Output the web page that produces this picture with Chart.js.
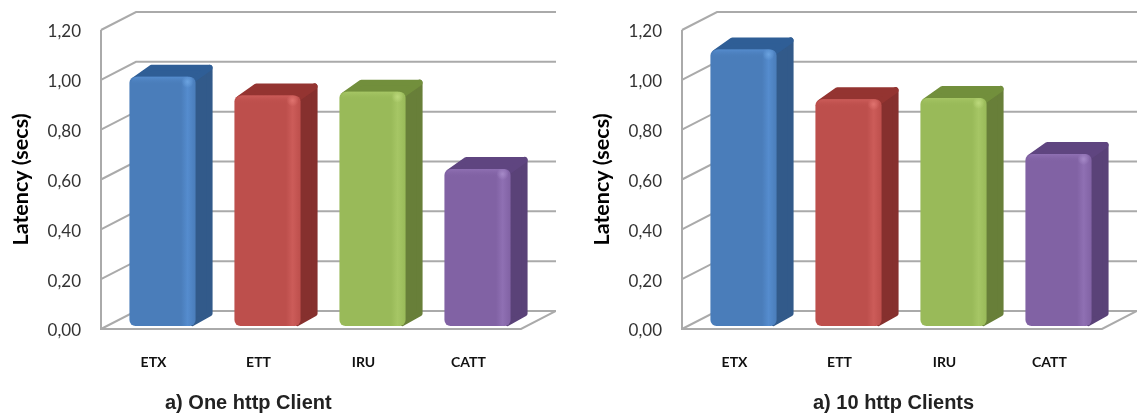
<!DOCTYPE html>
<html>
<head>
<meta charset="utf-8">
<title>Latency</title>
<script src="https://cdn.jsdelivr.net/npm/chart.js@4/dist/chart.umd.min.js"></script>
<style>
html, body { margin: 0; padding: 0; background: #fff; }
body { position: relative; width: 1137px; height: 414px; overflow: hidden; }
canvas { position: absolute; top: 0; }
#chartOne { left: 0; }
#chartTen { left: 581px; }
.caption { position: absolute; top: 390px; font: bold 20px/24px "Liberation Sans", Arial, sans-serif; color: #222; white-space: nowrap; }
#captionOne { left: 165px; }
#captionTen { left: 813px; }
</style>
</head>
<body>
<canvas id="chartOne" width="556" height="414"></canvas>
<canvas id="chartTen" width="556" height="414"></canvas>
<div class="caption" id="captionOne">a) One http Client</div>
<div class="caption" id="captionTen">a) 10 http Clients</div>

<script>
var metrics = ["ETX", "ETT", "IRU", "CATT"];
var oneClient = [1.00, 0.925, 0.94, 0.63];
var tenClients = [1.11, 0.91, 0.915, 0.69];
var yTickLabels = ["0,00", "0,20", "0,40", "0,60", "0,80", "1,00", "1,20"];

// front, light edge, top face, side face for each bar
var barFront = ["#4a7dba", "#bd4f4c", "#99ba59", "#8162a4"];
var barLight = ["#558cce", "#cc5c59", "#a6c665", "#8f70b3"];
var barTop = ["#2f5e96", "#943431", "#728f3c", "#5f4580"];
var barSide = ["#325a8a", "#86302e", "#687f39", "#5a4278"];
var barSpot = ["#6ba3e0", "#e0736f", "#bcd97c", "#a68ac8"];

var wallColor = "#aaaaaa";
var wallDepthX = 35, wallDepthY = 18;
var barDepthX = 17, barDepthY = 9.5, barTopRise = 12;
var barShiftX = 9, barShiftY = 3;

function polygon(ctx, pts, color) {
    ctx.fillStyle = color;
    ctx.strokeStyle = color;
    ctx.lineWidth = 6;
    ctx.lineJoin = "round";
    ctx.beginPath();
    ctx.moveTo(pts[0][0], pts[0][1]);
    for (var i = 1; i < pts.length; i++) {
        ctx.lineTo(pts[i][0], pts[i][1]);
    }
    ctx.closePath();
    ctx.fill();
    ctx.stroke();
}

// the box behind the bars: left wall, back wall and floor
var wallsPlugin = {
    id: "walls",
    beforeDatasetsDraw: function(chart) {
        var ctx = chart.ctx;
        var area = chart.chartArea;
        var y = chart.scales.y;
        ctx.save();
        ctx.strokeStyle = wallColor;
        ctx.lineWidth = 2;
        y.ticks.forEach(function(tick) {
            var py = y.getPixelForValue(tick.value);
            ctx.beginPath();
            ctx.moveTo(area.left, py);
            ctx.lineTo(area.left + wallDepthX, py - wallDepthY);
            ctx.lineTo(area.right + wallDepthX, py - wallDepthY);
            ctx.stroke();
        });
        ctx.beginPath();
        ctx.moveTo(area.left, area.top);
        ctx.lineTo(area.left, area.bottom);
        ctx.lineTo(area.right, area.bottom);
        ctx.lineTo(area.right + wallDepthX, area.bottom - wallDepthY);
        ctx.stroke();
        ctx.restore();
    }
};

// top and side faces, then shift everything so the bars stand mid-floor
var depthPlugin = {
    id: "depth",
    beforeDatasetDraw: function(chart) {
        var ctx = chart.ctx;
        ctx.save();
        ctx.translate(barShiftX, -barShiftY);
        chart.getDatasetMeta(0).data.forEach(function(bar, i) {
            var l = bar.x - bar.width / 2;
            var r = bar.x + bar.width / 2;
            var t = bar.y;
            var b = bar.base;
            polygon(ctx, [[r - 3, t + 3], [r + barDepthX - 3, t - barTopRise + 3],
                [r + barDepthX - 3, b - barDepthY - 3], [r - 3, b - 3]], barSide[i]);
            polygon(ctx, [[l + 5, t + 3], [l + barDepthX + 5, t - barTopRise + 3],
                [r + barDepthX - 3, t - barTopRise + 3], [r - 3, t + 3]], barTop[i]);
        });
    },
    afterDatasetDraw: function(chart) {
        var ctx = chart.ctx;
        chart.getDatasetMeta(0).data.forEach(function(bar, i) {
            var r = bar.x + bar.width / 2;
            var l = bar.x - bar.width / 2;
            // soft bevel along the top of the front face
            var bevel = ctx.createLinearGradient(0, bar.y, 0, bar.y + 8);
            bevel.addColorStop(0, barLight[i]);
            bevel.addColorStop(1, barFront[i] + "00");
            ctx.fillStyle = bevel;
            ctx.beginPath();
            ctx.roundRect(l + 2, bar.y, bar.width - 4, 8, [6, 6, 0, 0]);
            ctx.fill();
            // glint where the bevels meet
            var spot = ctx.createRadialGradient(r - 8, bar.y + 5, 0, r - 8, bar.y + 5, 6);
            spot.addColorStop(0, barSpot[i]);
            spot.addColorStop(1, barSpot[i] + "00");
            ctx.fillStyle = spot;
            ctx.fillRect(r - 14, bar.y, 12, 12);
        });
        ctx.restore();
    }
};

function frontGradient(context) {
    var chart = context.chart;
    var i = context.dataIndex;
    if (!chart.chartArea) {
        return barFront[i];
    }
    var xScale = chart.scales.x;
    var half = xScale.getPixelForTick(1) - xScale.getPixelForTick(0);
    half = half * context.dataset.barPercentage / 2;
    var cx = xScale.getPixelForValue(i);
    var g = chart.ctx.createLinearGradient(cx - half, 0, cx + half, 0);
    g.addColorStop(0, barFront[i]);
    g.addColorStop(0.78, barFront[i]);
    g.addColorStop(0.88, barLight[i]);
    g.addColorStop(1, barFront[i]);
    return g;
}

function drawLatency(canvasId, values) {
    var ctx = document.getElementById(canvasId);
    return new Chart(ctx, {
        type: "bar",
        data: {
            labels: metrics,
            datasets: [{
                data: values,
                backgroundColor: frontGradient,
                borderRadius: 6,
                borderSkipped: false,
                categoryPercentage: 1,
                barPercentage: 0.63
            }]
        },
        options: {
            responsive: false,
            animation: false,
            layout: { padding: { top: 30, right: 35, left: 0, bottom: 0 } },
            plugins: { legend: { display: false }, tooltip: { enabled: false } },
            scales: {
                x: {
                    grid: { display: false },
                    border: { display: false },
                    ticks: {
                        padding: 17,
                        color: "#111",
                        font: { family: "Lato", size: 14, weight: "bold" }
                    },
                    afterFit: function(scale) { scale.height = 85; }
                },
                y: {
                    min: 0,
                    max: 1.2,
                    grid: { display: false },
                    border: { display: false },
                    title: {
                        display: true,
                        text: "Latency (secs)",
                        color: "#000",
                        padding: { top: 8, bottom: 0 },
                        font: { family: "Lato", size: 21.5, weight: "bold" }
                    },
                    ticks: {
                        stepSize: 0.2,
                        padding: 12,
                        labelOffset: 2,
                        color: "#333",
                        font: { family: "Lato", size: 17 },
                        callback: function(value, index) { return yTickLabels[index]; }
                    },
                    afterFit: function(scale) { scale.width = 101; }
                }
            }
        },
        plugins: [wallsPlugin, depthPlugin]
    });
}

drawLatency("chartOne", oneClient);
drawLatency("chartTen", tenClients);
</script>
</body>
</html>
